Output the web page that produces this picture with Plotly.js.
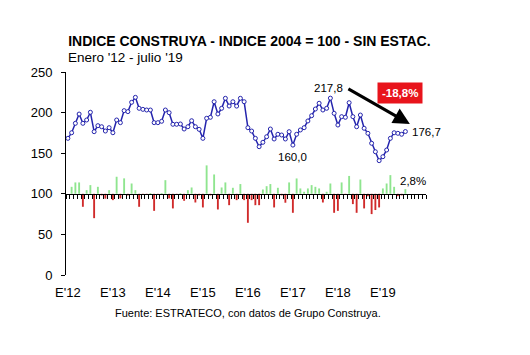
<!DOCTYPE html>
<html><head><meta charset="utf-8">
<script src="https://cdn.plot.ly/plotly-3.0.1.min.js"></script>
<style>html,body{margin:0;padding:0;background:#fff}</style>
</head><body>
<div id="chart" style="width:530px;height:355px"></div>
<script>
// Indice Construya (2004=100), enero 2012 - julio 2019, mensual
const indice = [
  168.3,175.2,186.8,198.2,186.8,190.9,200.4,176.5,183.9,182.6,177.3,181.4,
  175.2,190.9,187.6,202.4,201.2,212.7,218.8,205.3,204.0,203.2,203.2,187.6,
  187.6,189.3,203.2,199.9,185.6,185.6,186.0,179.8,182.6,190.0,182.6,179.4,
  168.3,193.0,194.2,213.4,198.3,205.3,217.6,208.1,213.4,208.0,217.6,213.4,
  181.4,177.3,168.3,158.0,163.4,170.3,179.8,167.5,173.3,172.4,167.5,176.5,
  160.0,173.3,178.6,181.4,189.7,196.2,204.4,211.5,203.2,205.3,217.8,199.1,
  184.7,195.0,194.2,212.2,195.0,182.6,197.0,180.7,174.5,162.2,151.8,140.8,
  145.7,153.9,168.3,175.2,174.5,173.3,176.7
];
// Variacion mensual (barras sobre la base 100, en unidades del eje)
const variacion = [
  0,8.6,14,14,-16,4.5,10.7,-30,8.6,-2,-6,4.5,
  -7.8,21,-5.7,19,-2,12.7,4.5,-16,-1.5,-1,1,-21,
  -1,1,16.8,-5.7,-18,-1.5,1,-8.6,4.5,7.8,-10.7,-2,
  -16.8,35,-2,23.8,-19.3,7.8,14,-14,7.4,-7.8,12,-7.8,
  -35.7,-7.8,-14,-14,5.3,9.4,12,-16.8,7.4,-2,-11,14,
  -23.4,18.9,6.6,2.5,6.6,10.7,8.6,6.6,-10.7,2.5,12.7,-23.4,
  -21,14,-1.5,22,-12.7,-23.4,17.6,-18,-3,-25,-20,-16.8,
  6.6,12.7,23,8.6,-2.9,-2,5.7
];
const baseBarras = 100;
const tickPos = [0,12,24,36,48,60,72,84];
const tickLabels = ["E'12","E'13","E'14","E'15","E'16","E'17","E'18","E'19"];
const etiquetaCaida = "-18,8%";
const etiquetaUltVar = "2,8%";
const iMax = 70, iMin = 60, iUlt = 90;

const meses = indice.map((_, i) => i);
const fmt = v => v.toFixed(1).replace('.', ',');
const FONT = 'Liberation Sans, Arial, sans-serif';

const barras = {
  type: 'bar', x: meses, y: variacion, base: baseBarras,
  xaxis: 'x2', yaxis: 'y', width: 0.5,
  marker: {color: variacion.map(v => v >= 0 ? '#8fe58f' : '#d02a2a'), line: {width: 0}},
  hoverinfo: 'skip'
};
const linea = {
  type: 'scatter', mode: 'lines+markers', x: meses, y: indice,
  line: {color: '#2424ad', width: 1.5},
  marker: {symbol: 'circle', size: 4, color: '#ffffff', line: {color: '#2424ad', width: 1}},
  hoverinfo: 'skip'
};

const layout = {
  width: 530, height: 355,
  margin: {l: 66, r: 104, t: 72, b: 80},
  paper_bgcolor: '#ffffff', plot_bgcolor: '#ffffff',
  showlegend: false,
  font: {family: FONT, color: '#000'},
  title: {
    text: '<b>INDICE CONSTRUYA - INDICE 2004 = 100 - SIN ESTAC.</b>',
    font: {family: FONT, size: 14, color: '#000'},
    xref: 'paper', x: 0.006, xanchor: 'left',
    yref: 'container', y: 1 - 41.5/355, yanchor: 'middle'
  },
  xaxis: {
    range: [-0.5, 95.5], showgrid: false, zeroline: false, showline: false,
    tickmode: 'array', tickvals: tickPos, ticktext: tickLabels,
    ticks: '', ticklabelstandoff: 8,
    tickfont: {family: FONT, size: 13, color: '#000'}
  },
  xaxis2: {
    matches: 'x', overlaying: 'x', anchor: 'free', position: 0.4,
    showgrid: false, zeroline: false, showline: true, linecolor: '#000', linewidth: 1,
    ticks: 'outside', ticklen: 4, tickcolor: '#000', tickwidth: 1,
    tickmode: 'linear', tick0: -0.5, dtick: 1, showticklabels: false
  },
  yaxis: {
    range: [0, 250], showgrid: false, zeroline: false,
    showline: true, linecolor: '#000', linewidth: 1,
    ticks: 'outside', ticklen: 4, tickcolor: '#000',
    tickmode: 'linear', tick0: 0, dtick: 50, ticklabelstandoff: 6,
    tickfont: {family: FONT, size: 13, color: '#000'}
  },
  annotations: [
    {xref: 'paper', yref: 'paper', x: 0.0, y: (275-57.5)/203, xanchor: 'left', yanchor: 'middle',
     text: "Enero '12 - julio '19", showarrow: false, font: {family: FONT, size: 13.5, color: '#000'}},
    {x: iMax, y: indice[iMax], text: fmt(indice[iMax]), showarrow: false,
     xanchor: 'center', yanchor: 'middle', xshift: -2, yshift: 10,
     font: {family: FONT, size: 11.5, color: '#000'}},
    {x: iMin, y: indice[iMin], text: fmt(indice[iMin]), showarrow: false,
     xanchor: 'center', yanchor: 'middle', yshift: -12,
     font: {family: FONT, size: 11.5, color: '#000'}},
    {x: iUlt, y: indice[iUlt], text: fmt(indice[iUlt]), showarrow: false,
     xanchor: 'left', yanchor: 'middle', xshift: 5,
     font: {family: FONT, size: 11.5, color: '#000'}},
    {x: iUlt, y: baseBarras + variacion[iUlt], text: etiquetaUltVar, showarrow: false,
     xanchor: 'center', yanchor: 'middle', xshift: 8, yshift: 8,
     font: {family: FONT, size: 11.5, color: '#000'}},
    {x: 91.2, y: 186, ax: 74.4, ay: 230.3, axref: 'x', ayref: 'y',
     text: '', showarrow: true, arrowhead: 2, arrowsize: 1.1, arrowwidth: 3, arrowcolor: '#000'},
    {xref: 'paper', yref: 'paper', x: (399.5-66)/360, y: (275-93)/203,
     xanchor: 'center', yanchor: 'middle', text: '<b>' + etiquetaCaida + '</b>', showarrow: false,
     bgcolor: '#e8141c', borderpad: 4, font: {family: FONT, size: 11.5, color: '#ffffff'}},
    {xref: 'paper', yref: 'paper', x: (247.5-66)/360, y: (275-313)/203,
     xanchor: 'center', yanchor: 'middle', showarrow: false,
     text: 'Fuente: ESTRATECO, con datos de Grupo Construya.',
     font: {family: FONT, size: 11, color: '#000'}}
  ]
};

Plotly.newPlot('chart', [barras, linea], layout, {displayModeBar: false, staticPlot: true});
</script>
</body></html>
